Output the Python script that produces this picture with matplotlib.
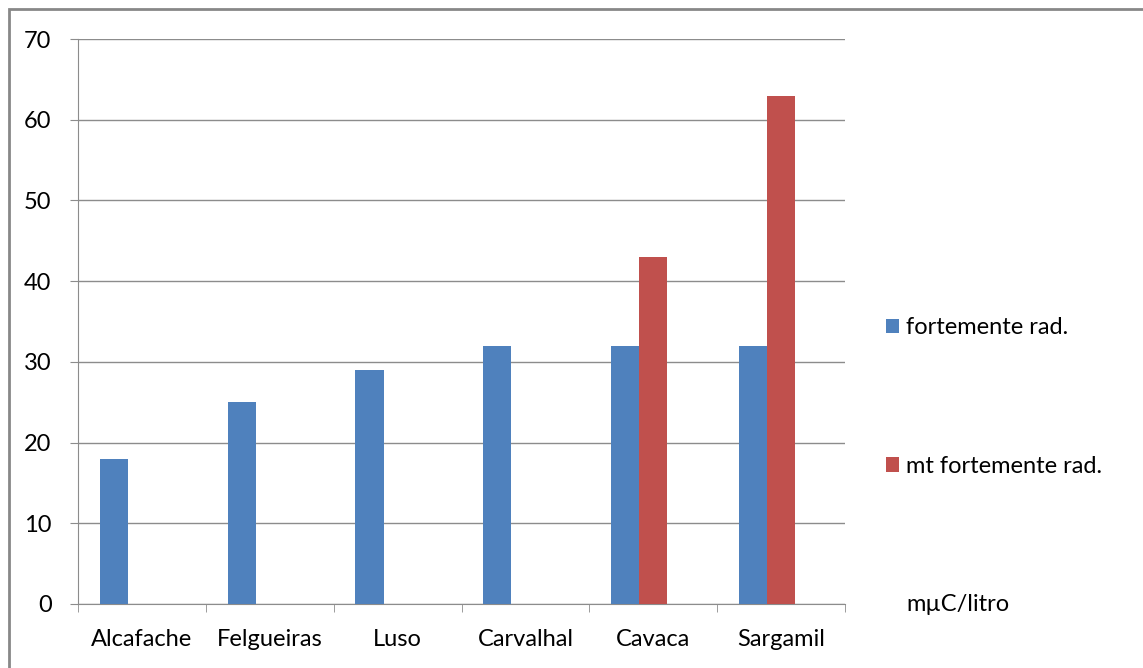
import matplotlib.pyplot as plt
import matplotlib.patches as mpatches
import numpy as np

# Dados
locais = ['Alcafache', 'Felgueiras', 'Luso', 'Carvalhal', 'Cavaca', 'Sargamil']
fortemente = [18, 25, 29, 32, 32, 32]
mt_fortemente = [0, 0, 0, 0, 43, 63]
unidade = [0, 0, 0, 0, 0, 0]  # série vazia (só aparece na legenda)
series_nomes = ['fortemente rad.', 'mt fortemente rad.', 'mµC/litro']
cores = ['#4F81BD', '#C0504D', 'none']

plt.rcParams['font.family'] = ['Lato', 'DejaVu Sans']

fig = plt.figure(figsize=(11.43, 6.68), dpi=100)
ax = fig.add_axes([78 / 1143, 64 / 668, (845 - 78) / 1143, (604 - 39) / 668])

bar_width = 0.22
index = np.arange(len(locais))
valores = [fortemente, mt_fortemente, unidade]
handles = []
for i, (vals, cor, nome) in enumerate(zip(valores, cores, series_nomes)):
    pos = index - bar_width + i * bar_width
    ax.bar(pos, vals, bar_width, color=cor, label=nome, zorder=3)
    handles.append(mpatches.Patch(facecolor=cor, edgecolor='none', label=nome))

ax.set_xlim(-0.5, len(locais) - 0.5)
ax.set_ylim(0, 70)
ax.set_yticks(np.arange(0, 71, 10))
ax.yaxis.grid(True, color='#8C8C8C', linewidth=1, zorder=0)
ax.set_xticks(index)
ax.set_xticklabels(locais)
ax.set_xticks(np.arange(-0.5, len(locais)), minor=True)
ax.tick_params(axis='x', which='major', length=0, pad=18, labelsize=17)
ax.tick_params(axis='x', which='minor', length=6, color='#8C8C8C')
ax.tick_params(axis='y', length=6, color='#8C8C8C', pad=13, labelsize=17)

for s in ['top', 'right']:
    ax.spines[s].set_visible(False)
for s in ['left', 'bottom']:
    ax.spines[s].set_color('#8C8C8C')

leg = ax.legend(handles=handles, loc='upper left', bbox_to_anchor=(865 / 1143, 1 - 296 / 668),
                bbox_transform=fig.transFigure, frameon=False, fontsize=17,
                handlelength=0.55, handleheight=0.55, handletextpad=0.3, labelspacing=4.98)

# moldura
fig.patches.append(mpatches.Rectangle((9 / 1143, -0.05), 1.1, 1 - 9 / 668 + 0.05,
                                      transform=fig.transFigure, fill=False,
                                      edgecolor='#888888', linewidth=2))

plt.savefig('out.png', dpi=100)
